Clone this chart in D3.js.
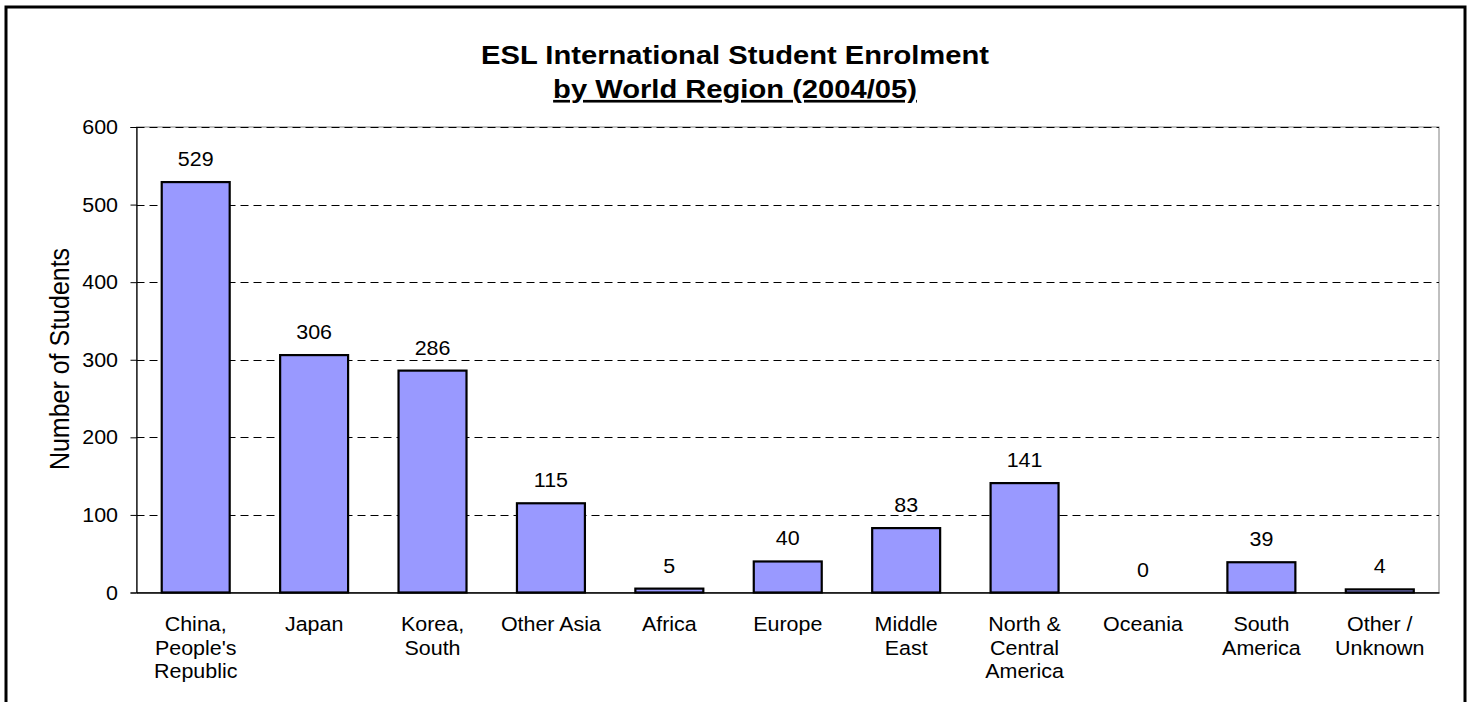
<!DOCTYPE html>
<html>
<head>
<meta charset="utf-8">
<script src="https://cdn.jsdelivr.net/npm/d3@7"></script>
<style>
  html, body { margin: 0; padding: 0; background: #fff; }
  svg { display: block; }
  text { font-family: "Liberation Sans", Arial, sans-serif; fill: #000; }
</style>
</head>
<body>
<svg id="chart" width="1473" height="702"></svg>
<script>
const categories = [
  "China,\nPeople's\nRepublic", "Japan", "Korea,\nSouth", "Other Asia", "Africa",
  "Europe", "Middle\nEast", "North &\nCentral\nAmerica", "Oceania", "South\nAmerica", "Other /\nUnknown"
];
const students = [529, 306, 286, 115, 5, 40, 83, 141, 0, 39, 4];
const yTicks = [0, 100, 200, 300, 400, 500, 600];
const titleLine1 = "ESL International Student Enrolment";
const titleLine2 = "by World Region (2004/05)";
const yTitle = "Number of Students";

const W = 1473, H = 702;
const m = { left: 136.5, right: 1439, top: 127, bottom: 592.5 };
const SX = 1.1; // horizontal text stretch seen in the reference

const svg = d3.select("#chart");

// outer border
svg.append("rect")
  .attr("x", 6).attr("y", 7).attr("width", 1459).attr("height", 800)
  .attr("fill", "#fff").attr("stroke", "#000").attr("stroke-width", 3);

const x = d3.scaleBand().domain(d3.range(categories.length))
  .range([m.left, m.right]).paddingInner(0.426).paddingOuter(0.213);
const y = d3.scaleLinear().domain([0, 600]).range([m.bottom, m.top]);

// plot area border (gray)
svg.append("rect")
  .attr("x", m.left).attr("y", m.top)
  .attr("width", m.right - m.left).attr("height", m.bottom - m.top)
  .attr("fill", "none").attr("stroke", "#808080").attr("stroke-width", 1);

// gridlines
svg.append("g").selectAll("line").data(yTicks.filter(d => d > 0)).join("line")
  .attr("x1", m.left).attr("x2", m.right)
  .attr("y1", d => Math.round(y(d)) + 0.5).attr("y2", d => Math.round(y(d)) + 0.5)
  .attr("stroke", "#000").attr("stroke-width", 1).attr("stroke-dasharray", "8,5");

// stretched text helper
function stext(g, tx, ty, str, size, anchor, opts = {}) {
  const t = g.append("text")
    .attr("transform", `translate(${tx},${ty}) scale(${SX},1)` + (opts.rotate ? ` rotate(${opts.rotate})` : ""))
    .attr("text-anchor", anchor)
    .style("font-size", size + "px")
    .text(str);
  if (opts.bold) t.style("font-weight", "bold");
  if (opts.underline) t.style("text-decoration", "underline");
  return t;
}

// y axis
const yAxis = d3.axisLeft(y).tickValues(yTicks).tickSize(6).tickPadding(0).tickFormat(d => "");
const ya = svg.append("g").attr("transform", `translate(${m.left},0)`).call(yAxis);
ya.select(".domain").attr("stroke", "#000").attr("stroke-width", 1.2);
ya.selectAll(".tick line").attr("stroke", "#000");
const tl = svg.append("g");
yTicks.forEach(v => stext(tl, 118, y(v) + 7, String(v), 19.5, "end"));

// bars
svg.append("g").selectAll("rect").data(students).join("rect")
  .attr("x", (d, i) => x(i))
  .attr("width", x.bandwidth())
  .attr("y", d => y(d))
  .attr("height", d => y(0) - y(d))
  .attr("fill", "#9999FF").attr("stroke", "#000").attr("stroke-width", 2.2);

// x axis line
const xAxis = d3.axisBottom(x).tickSize(0).tickFormat(() => "");
const xa = svg.append("g").attr("transform", `translate(0,${m.bottom})`).call(xAxis);
xa.select(".domain").attr("stroke", "#000").attr("stroke-width", 1.5);

// value labels
const vl = svg.append("g");
students.forEach((v, i) => stext(vl, x(i) + x.bandwidth() / 2, y(v) - 16, String(v), 19.5, "middle"));

// category labels
const cl = svg.append("g");
categories.forEach((c, i) => {
  c.split("\n").forEach((line, j) => {
    stext(cl, x(i) + x.bandwidth() / 2, 631 + j * 23.5, line, 19.5, "middle");
  });
});

// title
const tg = svg.append("g");
stext(tg, 735, 63.5, titleLine1, 26.5, "middle", { bold: true });
stext(tg, 735, 98, titleLine2, 26.5, "middle", { bold: true, underline: true });

// y title
stext(svg.append("g"), 69, 359, yTitle, 25, "middle", { rotate: -90 });
</script>
</body>
</html>
